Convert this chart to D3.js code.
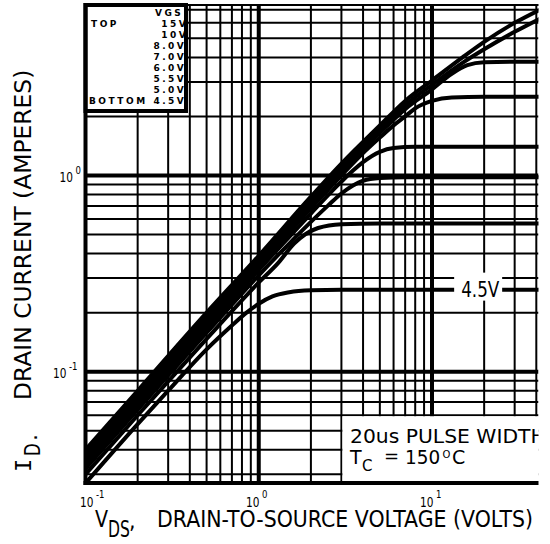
<!DOCTYPE html>
<html>
<head>
<meta charset="utf-8">
<script src="https://cdn.jsdelivr.net/npm/d3@7"></script>
<style>
body { margin: 0; background: #fff; }
svg { display: block; }
text { font-family: "DejaVu Sans", sans-serif; fill: #000; }
</style>
</head>
<body>
<div id="chart"></div>
<script>
// Id vs Vds output curves, Tc = 150C, one array of [Vds, Id] per Vgs
var vgsLabels = ["15V", "10V", "8.0V", "7.0V", "6.0V", "5.5V", "5.0V", "4.5V"];

var curve15 = [[0.1, 0.040], [0.2, 0.080], [0.5, 0.20], [1, 0.39], [2, 0.78], [3, 1.15], [5, 1.8], [7, 2.4], [10, 3.05], [15, 4.0], [20, 4.8], [30, 6.0], [42, 7.0]];
var curve10 = [[0.1, 0.038], [0.2, 0.076], [0.5, 0.19], [1, 0.372], [2, 0.74], [3, 1.09], [5, 1.72], [7, 2.28], [10, 2.9], [15, 3.75], [20, 4.4], [30, 5.4], [42, 6.3]];
var curve8 = [[0.1, 0.0365], [0.2, 0.073], [0.5, 0.182], [1, 0.36], [2, 0.71], [3, 1.05], [5, 1.65], [7, 2.18], [10, 2.75], [13, 3.3], [16, 3.65], [20, 3.78], [30, 3.8], [42, 3.8]];
var curve7 = [[0.1, 0.035], [0.2, 0.070], [0.5, 0.174], [1, 0.345], [2, 0.68], [3, 1.0], [4, 1.3], [5, 1.56], [6, 1.8], [7, 2.0], [8, 2.2], [10, 2.4], [13, 2.5], [20, 2.52], [42, 2.52]];
var curve6 = [[0.1, 0.0335], [0.2, 0.067], [0.5, 0.166], [1, 0.33], [2, 0.64], [2.5, 0.79], [3, 0.93], [3.5, 1.06], [4, 1.17], [5, 1.32], [6, 1.38], [8, 1.40], [42, 1.40]];
var curve55 = [[0.1, 0.032], [0.2, 0.064], [0.5, 0.158], [1, 0.31], [1.5, 0.45], [2, 0.58], [2.5, 0.7], [3, 0.81], [3.5, 0.89], [4, 0.94], [5, 0.97], [7, 0.98], [42, 0.98]];
var curve5 = [[0.1, 0.030], [0.2, 0.060], [0.5, 0.147], [1, 0.285], [1.3, 0.36], [1.6, 0.45], [2.2, 0.54], [3, 0.565], [5, 0.57], [42, 0.57]];
var curve45 = [[0.1, 0.027], [0.2, 0.054], [0.3, 0.08], [0.5, 0.13], [0.7, 0.172], [0.85, 0.2], [1, 0.222], [1.2, 0.242], [1.5, 0.254], [2, 0.26], [3, 0.262], [42, 0.262]];

var curves = [curve15, curve10, curve8, curve7, curve6, curve55, curve5, curve45];

// grid lines
var xGridMinor = [0.2, 0.3, 0.4, 0.5, 0.6, 0.7, 0.8, 0.9, 2, 3, 4, 5, 6, 7, 8, 9, 20, 30, 40];
var xGridMajor = [1, 10];
var yGridMinor = [0.03, 0.04, 0.05, 0.06, 0.07, 0.08, 0.09, 0.2, 0.3, 0.4, 0.5, 0.6, 0.7, 0.8, 0.9, 2, 3, 4, 5, 6, 7];
var yGridMajor = [0.1, 1];
var xTicks = [0.1, 1, 10];
var xTickExp = ["-1", "0", "1"];
var yTicks = [0.1, 1];
var yTickExp = ["-1", "0"];

var w = 550;
var h = 544;
var pL = 85.5, pR = 538.5, pT = 5, pB = 483;

var xscale = d3.scaleLog().domain([0.1, 10]).range([85.5, 432]);
var yscale = d3.scaleLog().domain([0.1, 1]).range([371.7, 175.5]);

var svg = d3.select("#chart")
            .append("svg")
            .attr("width", w)
            .attr("height", h);

// text squeezed/stretched like the plotter lettering
function addText(parent, x, y, size, kx, ky, str) {
    return parent.append("g")
                 .attr("transform", "translate(" + x + "," + y + ") scale(" + kx + "," + ky + ")")
                 .append("text")
                 .attr("font-size", size)
                 .text(str);
}

svg.append("clipPath").attr("id", "plotclip")
   .append("rect")
   .attr("x", pL).attr("y", pT)
   .attr("width", pR - pL).attr("height", pB - pT);

var plot = svg.append("g").attr("clip-path", "url(#plotclip)");

// grid
plot.selectAll("line.vmin")
    .data(xGridMinor).enter()
    .append("line")
    .attr("x1", function(d) { return xscale(d); })
    .attr("x2", function(d) { return xscale(d); })
    .attr("y1", pT).attr("y2", pB)
    .attr("stroke", "#000").attr("stroke-width", 2);

plot.selectAll("line.hmin")
    .data(yGridMinor).enter()
    .append("line")
    .attr("y1", function(d) { return yscale(d); })
    .attr("y2", function(d) { return yscale(d); })
    .attr("x1", pL).attr("x2", pR)
    .attr("stroke", "#000").attr("stroke-width", 2);

plot.selectAll("line.vmaj")
    .data(xGridMajor).enter()
    .append("line")
    .attr("x1", function(d) { return xscale(d); })
    .attr("x2", function(d) { return xscale(d); })
    .attr("y1", pT).attr("y2", pB)
    .attr("stroke", "#000").attr("stroke-width", 4);

plot.selectAll("line.hmaj")
    .data(yGridMajor).enter()
    .append("line")
    .attr("y1", function(d) { return yscale(d); })
    .attr("y2", function(d) { return yscale(d); })
    .attr("x1", pL).attr("x2", pR)
    .attr("stroke", "#000").attr("stroke-width", 4);

// curves
var line = d3.line()
             .x(function(d) { return xscale(d[0]); })
             .y(function(d) { return yscale(d[1]); })
             .curve(d3.curveMonotoneX);

plot.selectAll("path.curve")
    .data(curves).enter()
    .append("path")
    .attr("d", line)
    .attr("fill", "none")
    .attr("stroke", "#000")
    .attr("stroke-width", 4)
    .attr("stroke-linejoin", "round");

// 4.5V label on its curve
var lab45 = curve45[curve45.length - 1];
var lx = xscale(20), ly = yscale(lab45[1]);
plot.append("rect")
    .attr("x", lx - 30).attr("y", ly - 17)
    .attr("width", 48).attr("height", 28)
    .attr("fill", "#fff");
addText(plot, lx - 23, ly + 7, 20, 0.84, 1.1, "4.5V");

// pulse width note box
var nx = xscale(3), ny = yscale(0.06);
plot.append("rect")
    .attr("x", nx + 1).attr("y", ny + 1)
    .attr("width", pR - nx).attr("height", pB - ny)
    .attr("fill", "#fff");
addText(plot, 350, 443, 19, 1.07, 1.0, "20us PULSE WIDTH");
addText(plot, 350, 464, 19, 1, 1.02, "T");
addText(plot, 362, 471, 15, 1, 1, "C");
addText(plot, 384, 462, 18, 1, 1, "=");
addText(plot, 405, 464, 19, 0.97, 1.02, "150");
addText(plot, 442.5, 458, 10, 1, 1, "O");
addText(plot, 452, 464, 19, 1, 1.02, "C");

// legend box
svg.append("rect")
   .attr("x", pL).attr("y", pT)
   .attr("width", 186 - pL).attr("height", 111 - pT)
   .attr("fill", "#fff").attr("stroke", "#000").attr("stroke-width", 4);

var legend = svg.append("g")
                .style("font-family", "'DejaVu Sans Mono', monospace")
                .style("font-weight", "bold")
                .style("font-size", "9px")
                .style("letter-spacing", "2.5px");
legend.append("text").attr("x", 155).attr("y", 16).text("VGS");
legend.append("text").attr("x", 91).attr("y", 27).text("TOP");
legend.append("text").attr("x", 89).attr("y", 104).text("BOTTOM");
legend.selectAll("text.vgs")
      .data(vgsLabels).enter()
      .append("text")
      .attr("x", function(d) { return 185 - d.length * 7.9; })
      .attr("y", function(d, i) { return 27 + i * 11; })
      .text(function(d) { return d; });

// frame
svg.append("line").attr("x1", pL).attr("x2", pL).attr("y1", pT - 2).attr("y2", pB + 2)
   .attr("stroke", "#000").attr("stroke-width", 4);
svg.append("line").attr("x1", pL - 2).attr("x2", pR).attr("y1", pB).attr("y2", pB)
   .attr("stroke", "#000").attr("stroke-width", 4);
svg.append("line").attr("x1", pL).attr("x2", pR).attr("y1", pT).attr("y2", pT)
   .attr("stroke", "#000").attr("stroke-width", 2);

// tick labels: "10" then a separate superscript
var xLabelStart = [80, 246, 420];
xTicks.forEach(function(d, i) {
    addText(svg, xLabelStart[i], 507, 12, 0.88, 1.15, "10");
    addText(svg, xLabelStart[i] + 16, 498, 9.5, 0.9, 1.1, xTickExp[i]);
});
yTicks.forEach(function(d, i) {
    var sx = 82 - yTickExp[i].length * 6.5;
    addText(svg, sx - 16, yscale(d) + 6, 12, 0.88, 1.15, "10");
    addText(svg, sx, yscale(d) - 2, 9.5, 0.9, 1.1, yTickExp[i]);
});

// axis titles
addText(svg, 95, 527, 20.5, 0.93, 1.13, "V");
addText(svg, 108, 537, 20.5, 0.76, 1.13, "DS");
addText(svg, 129, 528, 20.5, 1, 1.13, ",");
addText(svg, 157, 527, 20.5, 1, 1.13, "DRAIN-TO-SOURCE VOLTAGE (VOLTS)");

var yt = svg.append("g").attr("transform", "translate(31,0) rotate(-90)");
addText(yt, -472, 0, 22, 1, 1, "I").style("font-family", "'DejaVu Sans Mono', monospace");
addText(yt, -456, 9, 22, 0.75, 1, "D");
addText(yt, -441, 6, 22, 1, 1, ".");
addText(yt, -400, 0, 23.4, 1, 1, "DRAIN CURRENT (AMPERES)");
</script>
</body>
</html>
